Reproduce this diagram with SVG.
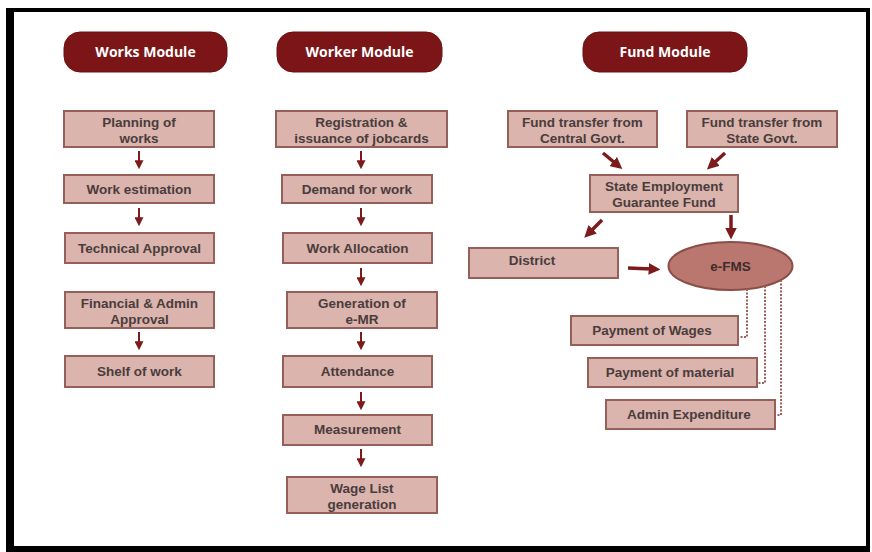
<svg xmlns="http://www.w3.org/2000/svg" width="872" height="552" viewBox="0 0 872 552">
<style>
.hdr{fill:#7b1517;stroke:#6a1012;stroke-width:1}
.hdt{font-family:"Open Sans","Liberation Sans",sans-serif;font-weight:700;font-size:14px;fill:#ffffff;text-anchor:middle}
.box{fill:#dab4ad;stroke:#95605a;stroke-width:2}
.t{font-family:"Liberation Sans",Arial,sans-serif;font-weight:700;font-size:13.5px;fill:#4a3c3c;text-anchor:middle}
.a{stroke:#7d1a1c;stroke-width:2;fill:none;marker-end:url(#ah)}
.ab{stroke:#7d1a1c;stroke-width:3.5;fill:none;marker-end:url(#ahb)}
.d{stroke:#a0605a;stroke-width:2;fill:none;stroke-dasharray:2 1.5}
</style>
<defs>
<marker id="ah" viewBox="0 0 10 10" refX="2" refY="5" markerWidth="4.5" markerHeight="4.5" orient="auto" markerUnits="strokeWidth"><path d="M0,0 L10,5 L0,10 z" fill="#7d1a1c"/></marker>
<marker id="ahb" viewBox="0 0 10 10" refX="2" refY="5" markerWidth="3.4" markerHeight="3.4" orient="auto" markerUnits="strokeWidth"><path d="M0,0 L10,5 L0,10 z" fill="#7d1a1c"/></marker>
</defs>
<rect x="0" y="0" width="872" height="552" fill="#ffffff"/>
<g id="frame">
<rect x="6" y="8" width="864" height="4" fill="#000"/>
<rect x="6" y="8" width="8" height="544" fill="#000"/>
<rect x="866" y="8" width="4" height="544" fill="#000"/>
<rect x="6" y="546" width="864" height="6" fill="#000"/>
</g>
<g id="works-module"><rect class="hdr" x="64" y="32" width="163" height="40" rx="16"/><text class="hdt" x="145.5" y="57">Works Module</text></g>
<g id="worker-module"><rect class="hdr" x="277" y="32" width="165" height="40" rx="16"/><text class="hdt" x="359.5" y="57">Worker Module</text></g>
<g id="fund-module"><rect class="hdr" x="583" y="32" width="164" height="40" rx="16"/><text class="hdt" x="665" y="57">Fund Module</text></g>

<g id="planning"><rect class="box" x="64" y="111" width="150" height="36"/><text class="t" x="139" y="127">Planning of</text><text class="t" x="139" y="143">works</text></g>
<g id="estimation"><rect class="box" x="64" y="175" width="150" height="28"/><text class="t" x="139" y="194">Work estimation</text></g>
<g id="technical"><rect class="box" x="65" y="233" width="149" height="30"/><text class="t" x="139.5" y="253">Technical Approval</text></g>
<g id="financial"><rect class="box" x="65" y="292" width="149" height="36"/><text class="t" x="139.5" y="308">Financial &amp; Admin</text><text class="t" x="139.5" y="324">Approval</text></g>
<g id="shelf"><rect class="box" x="65" y="356" width="149" height="31"/><text class="t" x="139.5" y="376">Shelf of work</text></g>

<g id="registration"><rect class="box" x="276" y="111" width="171" height="36"/><text class="t" x="361.5" y="127">Registration &amp;</text><text class="t" x="361.5" y="143">issuance of jobcards</text></g>
<g id="demand"><rect class="box" x="282" y="175" width="150" height="28"/><text class="t" x="357" y="194">Demand for work</text></g>
<g id="allocation"><rect class="box" x="283" y="233" width="149" height="30"/><text class="t" x="357.5" y="253">Work Allocation</text></g>
<g id="emr"><rect class="box" x="287" y="292" width="150" height="36"/><text class="t" x="362" y="308">Generation of</text><text class="t" x="362" y="324">e-MR</text></g>
<g id="attendance"><rect class="box" x="283" y="356" width="149" height="31"/><text class="t" x="357.5" y="376">Attendance</text></g>
<g id="measurement"><rect class="box" x="283" y="415" width="149" height="30"/><text class="t" x="357.5" y="434">Measurement</text></g>
<g id="wagelist"><rect class="box" x="287" y="477" width="150" height="36"/><text class="t" x="362" y="493">Wage List</text><text class="t" x="362" y="509">generation</text></g>

<g id="central"><rect class="box" x="508" y="111" width="149" height="36"/><text class="t" x="582.5" y="127">Fund transfer from</text><text class="t" x="582.5" y="143">Central Govt.</text></g>
<g id="state"><rect class="box" x="687" y="111" width="150" height="36"/><text class="t" x="762" y="127">Fund transfer from</text><text class="t" x="762" y="143">State Govt.</text></g>
<g id="segf"><rect class="box" x="590" y="175" width="148" height="37"/><text class="t" x="664" y="191">State Employment</text><text class="t" x="664" y="207">Guarantee Fund</text></g>
<g id="district"><rect class="box" x="469" y="248" width="149" height="30"/><text class="t" x="532" y="265">District</text></g>
<g id="efms"><ellipse cx="730.5" cy="266" rx="62" ry="24" fill="#b9776f" stroke="#8a4e48" stroke-width="2"/><text class="t" x="730.5" y="271" style="fill:#3e2b2b">e-FMS</text></g>
<g id="wages"><rect class="box" x="571" y="316" width="167" height="29"/><text class="t" x="652" y="335">Payment of Wages</text></g>
<g id="material"><rect class="box" x="588" y="358" width="169" height="29"/><text class="t" x="670" y="377">Payment of material</text></g>
<g id="admin"><rect class="box" x="606" y="400" width="169" height="29"/><text class="t" x="689" y="419">Admin Expenditure</text></g>

<g id="connectors">
<line class="a" x1="139" y1="151" x2="139" y2="162"/>
<line class="a" x1="139" y1="208" x2="139" y2="219"/>
<line class="a" x1="139" y1="332" x2="139" y2="343"/>
<line class="a" x1="361" y1="151" x2="361" y2="162"/>
<line class="a" x1="361" y1="208" x2="361" y2="219"/>
<line class="a" x1="361" y1="268" x2="361" y2="279"/>
<line class="a" x1="361" y1="332" x2="361" y2="343"/>
<line class="a" x1="361" y1="392" x2="361" y2="403"/>
<line class="a" x1="361" y1="449" x2="361" y2="460"/>
<line class="ab" x1="603" y1="153" x2="615" y2="163"/>
<line class="ab" x1="725" y1="153" x2="714" y2="163"/>
<line class="ab" x1="602" y1="220" x2="591" y2="231"/>
<line class="ab" x1="731" y1="215" x2="731" y2="230"/>
<line class="ab" x1="628" y1="268" x2="651" y2="269"/>
<path class="d" d="M747,289 V337 H739"/>
<path class="d" d="M765,286 V383 H758"/>
<path class="d" d="M781,280 V415 H776"/>
</g>
</svg>
